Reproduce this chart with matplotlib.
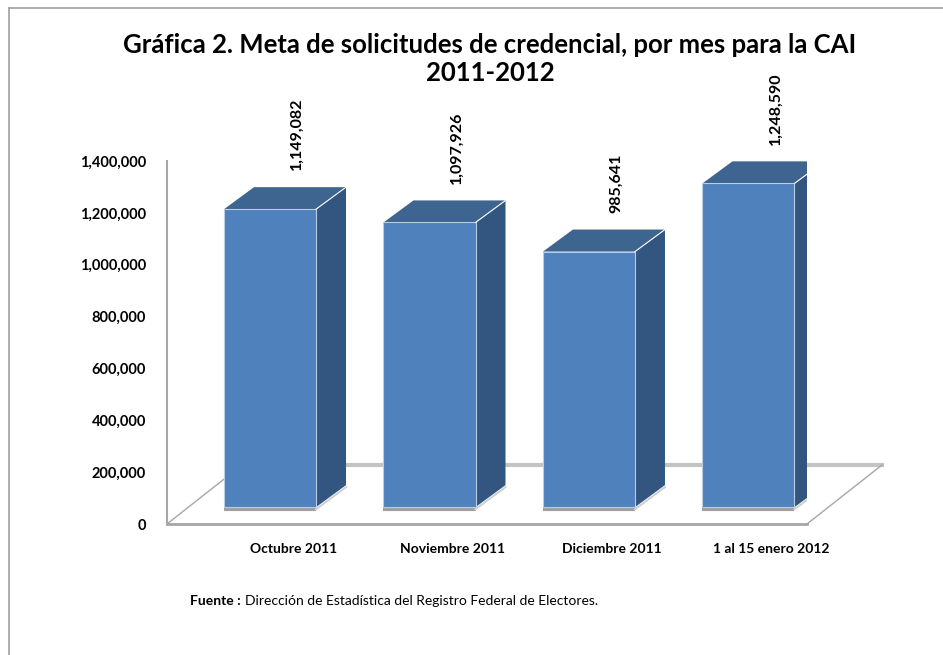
import matplotlib
matplotlib.use("Agg")
import matplotlib.pyplot as plt
from matplotlib.patches import Polygon
from matplotlib.lines import Line2D

plt.rcParams['font.family'] = ['Lato', 'DejaVu Sans']

categorias = ["Octubre 2011", "Noviembre 2011", "Diciembre 2011", "1 al 15 enero 2012"]
solicitudes = [1149082, 1097926, 985641, 1248590]
yticks = [0, 200000, 400000, 600000, 800000, 1000000, 1200000, 1400000]

W, H = 943, 655
fig = plt.figure(figsize=(W / 100, H / 100), dpi=100)

# axes placed so that the front floor edge sits at y=524 px and the axis at x=167 px
ax = fig.add_axes([167 / W, (H - 524) / H, 640 / W, 363 / H])
ax.set_xlim(-0.646, 3.367)
ax.set_ylim(0, 1400000)
for s in ax.spines.values():
    s.set_visible(False)
ax.patch.set_alpha(0)

# 3d-ish offsets (data units)
base = 65000          # bars stand a bit behind the front floor edge
dx, dy = 0.188, 85000  # bar depth
fdx, fdy = 0.470, 227500  # floor depth
width = 0.577
xs = list(range(len(categorias)))
grey = "#a6a6a6"

# floor / walls
ax.plot([-0.646, -0.646 + fdx], [0, fdy], color=grey, lw=1, zorder=1, clip_on=False)
ax.plot([-0.646 + fdx, 3.367 + fdx], [fdy, fdy], color="#c4c4c4", lw=3, zorder=1, clip_on=False)
ax.plot([3.367, 3.367 + fdx], [0, fdy], color=grey, lw=1, zorder=1, clip_on=False)
ax.plot([-0.646, 3.367], [0, 0], color=grey, lw=2, zorder=1, clip_on=False)
ax.plot([-0.646, -0.646], [0, 1400000], color=grey, lw=1.5, zorder=1, clip_on=False)

# front faces
ax.bar(xs, solicitudes, width=width, bottom=base, color="#4f81bd",
       edgecolor="#b8cce4", linewidth=0.8, zorder=3)

for x, v in zip(xs, solicitudes):
    l, r = x - width / 2, x + width / 2
    top = base + v
    side = Polygon([(r, base), (r + dx, base + dy), (r + dx, top + dy), (r, top)],
                   closed=True, facecolor="#335681", edgecolor="none", zorder=2)
    topf = Polygon([(l, top), (l + dx, top + dy), (r + dx, top + dy), (r, top)],
                   closed=True, facecolor="#3e6490", edgecolor="none", zorder=2)
    ax.add_patch(side)
    ax.add_patch(topf)
    ax.plot([r, r + dx], [top, top + dy], color="white", lw=0.8, zorder=4)
    # shadow under the bar
    ax.plot([l, r], [base - 8000, base - 8000], color="#a0a0a0", lw=3,
            zorder=2, solid_capstyle="butt")
    ax.plot([r, r + dx], [base - 8000, base + dy - 8000], color="#d0d0d0", lw=1.5,
            zorder=2)
    ax.text(x + 0.17, top + 150000, f"{v:,}", rotation=90, ha="center", va="bottom",
            fontsize=11.5, fontweight="bold", color="black")

ax.set_yticks(yticks)
ax.set_yticklabels([f"{t:,}" for t in yticks], fontsize=10.5, fontweight="bold")
ax.set_xticks([x + 0.145 for x in xs])
ax.set_xticklabels(categorias, fontsize=10, fontweight="bold")
ax.tick_params(axis="y", length=0, pad=15)
ax.tick_params(axis="x", length=0, pad=14)

fig.text(490 / W, 1 - 45 / H, "Gráfica 2. Meta de solicitudes de credencial, por mes para la CAI",
         ha="center", va="center", fontsize=18.5, fontweight="bold")
fig.text(490 / W, 1 - 73 / H, "2011-2012", ha="center", va="center",
         fontsize=18.5, fontweight="bold")

t1 = fig.text(190 / W, 1 - 601 / H, "Fuente :", ha="left", va="center",
              fontsize=10, fontweight="bold")
fig.canvas.draw()
bb = t1.get_window_extent()
fig.text((bb.x1 + 4) / W, 1 - 601 / H, "Dirección de Estadística del Registro Federal de Electores.",
         ha="left", va="center", fontsize=10)

# outer frame (top and left edges)
fig.add_artist(Line2D([9 / W, 1], [1 - 8 / H, 1 - 8 / H], transform=fig.transFigure,
                      color="#a0a0a0", lw=1.2))
fig.add_artist(Line2D([9 / W, 9 / W], [0, 1 - 8 / H], transform=fig.transFigure,
                      color="#a0a0a0", lw=1.2))

fig.savefig("out.png", dpi=100)
